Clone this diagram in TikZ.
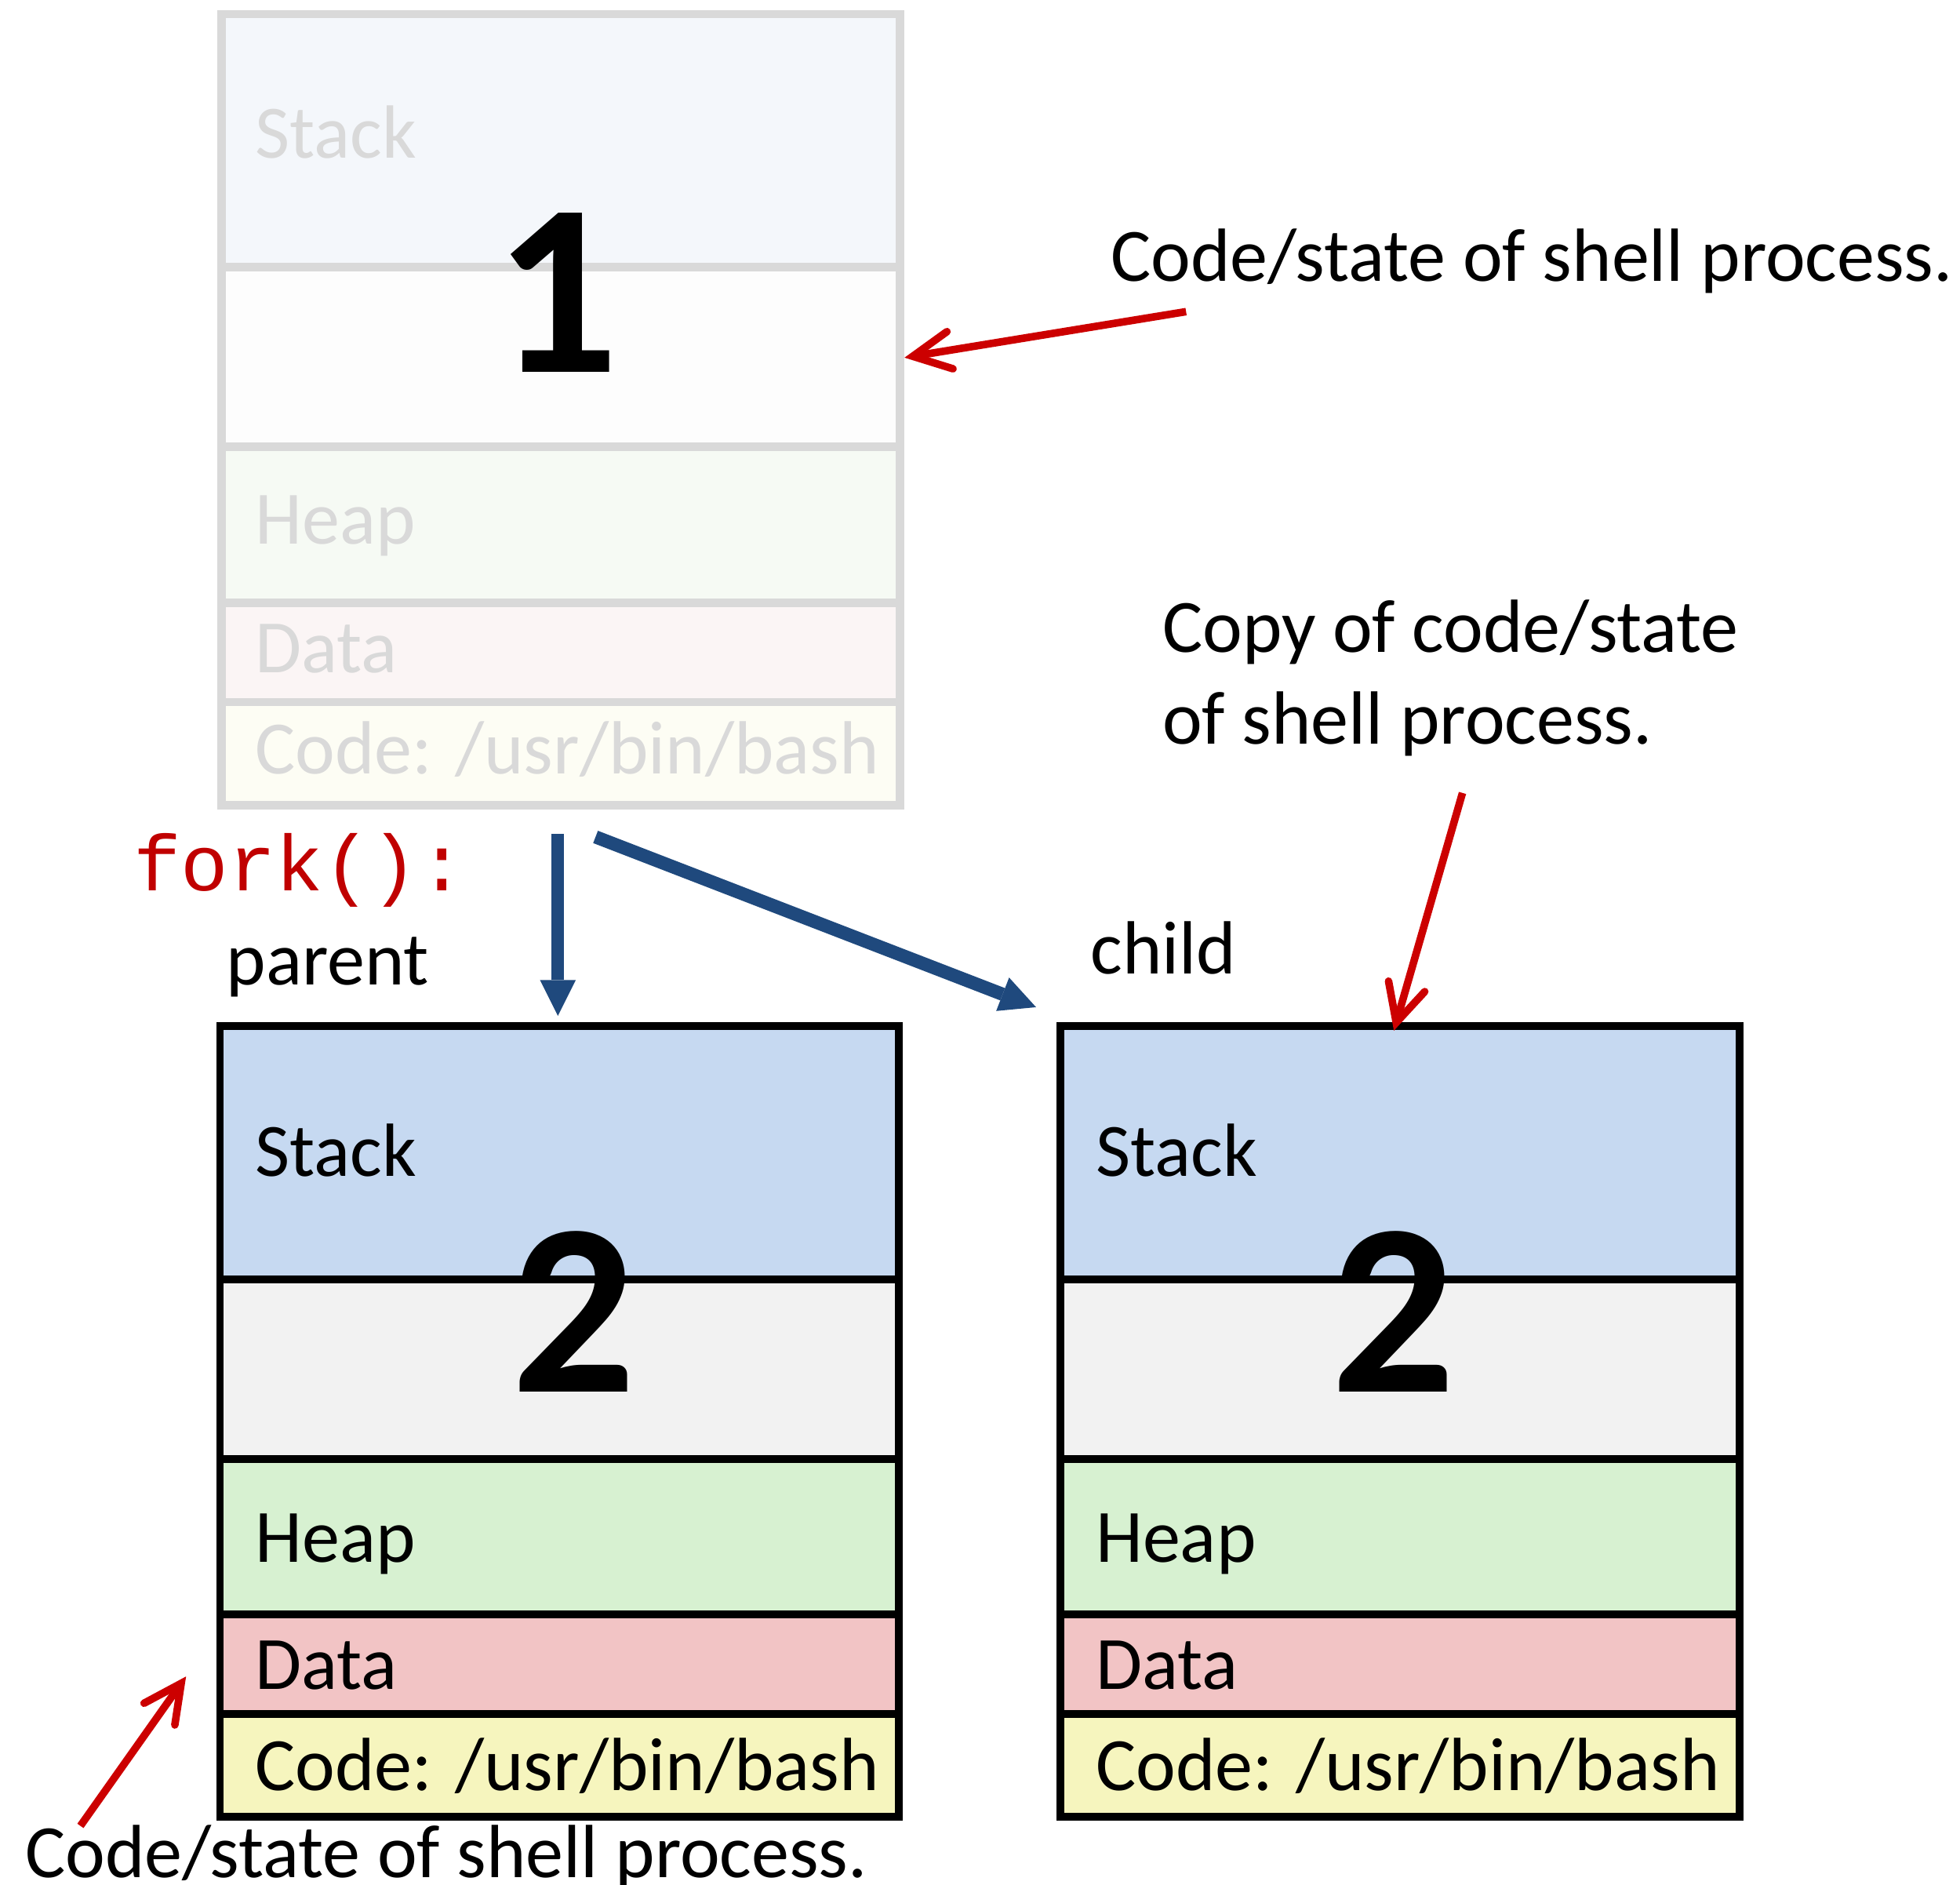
\documentclass[tikz,border=0pt]{standalone}
\usepackage{fontspec}
\setmainfont{Carlito}
\newfontfamily\monofont{Liberation Mono}
\usetikzlibrary{arrows.meta}
\definecolor{tStack}{HTML}{F4F7FB}
\definecolor{tMid}{HTML}{FDFDFD}
\definecolor{tHeap}{HTML}{F6FAF4}
\definecolor{tData}{HTML}{FBF5F5}
\definecolor{tCode}{HTML}{FDFDF4}
\definecolor{tGray}{HTML}{D9D9D9}
\definecolor{bStack}{HTML}{C6D9F1}
\definecolor{bMid}{HTML}{F2F2F2}
\definecolor{bHeap}{HTML}{D7F1D1}
\definecolor{bData}{HTML}{F2C4C5}
\definecolor{bCode}{HTML}{F6F5BE}
\definecolor{arrBlue}{HTML}{1F497D}
\definecolor{arrRed}{HTML}{CC0000}
\definecolor{forkRed}{HTML}{C00000}
\begin{document}
\begin{tikzpicture}[x=1pt,y=-1pt,
  tseg/.style={draw=tGray,line width=6.6pt,minimum width=540pt,anchor=north west,inner sep=0pt,outer sep=0pt},
  bseg/.style={draw=black,line width=6.2pt,minimum width=540.4pt,anchor=north west,inner sep=0pt,outer sep=0pt},
  tlabel/.style={anchor=base west,text=tGray,font=\fontsize{60}{72}\selectfont,inner sep=0pt},
  blabel/.style={anchor=base west,text=black,font=\fontsize{60}{72}\selectfont,inner sep=0pt},
  note/.style={anchor=base west,text=black,font=\fontsize{60}{72}\selectfont,inner sep=0pt},
  bignum/.style={anchor=base,text=black,font=\fontsize{195}{230}\bfseries\selectfont,inner sep=0pt},
  bluearrow/.style={draw=arrBlue,-{Triangle[length=28.5pt,width=28.5pt,line width=0pt]}},
  redarrow/.style={draw=arrRed,line width=6pt,-{Straight Barb[length=30pt,width=30pt,line cap=round,line join=miter]}}
]
\useasboundingbox (0,0) rectangle (1560,1500);
% ---- top process (faded)
\node[tseg,fill=tStack,minimum height=201.4pt] (tstack) at (176.2,11.25) {};
\node[tseg,fill=tMid,minimum height=143pt] (tmid) at (176.2,212.65) {};
\node[tseg,fill=tHeap,minimum height=123.9pt] (theap) at (176.2,355.65) {};
\node[tseg,fill=tData,minimum height=79.1pt] (tdata) at (176.2,479.55) {};
\node[tseg,fill=tCode,minimum height=82pt] (tcode) at (176.2,558.65) {};
\node[tlabel] (tstackL) at (203,126) {Stack};
\node[tlabel] (theapL) at (203,433) {Heap};
\node[tlabel] (tdataL) at (203,535) {Data};
\node[tlabel] (tcodeL) at (203,616) {Code: /usr/bin/bash};
\node[bignum] (one) at (443,296) {1};
% ---- parent and child processes
\foreach \px/\lx/\nm in {175.1/203/p,843.9/872/c}{
  \node[bseg,fill=bStack,minimum height=201.4pt] (\nm stack) at (\px,816.5) {};
  \node[bseg,fill=bMid,minimum height=143pt] (\nm mid) at (\px,1017.9) {};
  \node[bseg,fill=bHeap,minimum height=123.9pt] (\nm heap) at (\px,1160.9) {};
  \node[bseg,fill=bData,minimum height=79.1pt] (\nm data) at (\px,1284.8) {};
  \node[bseg,fill=bCode,minimum height=82pt] (\nm code) at (\px,1363.9) {};
  \node[blabel] (\nm stackL) at (\lx,936) {Stack};
  \node[blabel] (\nm heapL) at (\lx,1243) {Heap};
  \node[blabel] (\nm dataL) at (\lx,1344) {Data};
  \node[blabel] (\nm codeL) at (\lx,1425) {Code: /usr/bin/bash};
}
\node[bignum] (twoP) at (457,1108) {2};
\node[bignum] (twoC) at (1109,1108) {2};
% ---- texts
\node[anchor=base west,inner sep=0pt,text=forkRed,font=\monofont\fontsize{63}{72}\selectfont] (fork) at (106,709) {fork():};
\node[note] (parentL) at (180,784) {parent};
\node[note] (childL) at (868,775) {child};
\node[note] (noteTop) at (884,224) {Code/state of shell process.};
\node[note] (copyA) at (925,519) {Copy of code/state};
\node[note] (copyB) at (925,592) {of shell process.};
\node[note] (noteBot) at (20,1494) {Code/state of shell process.};
% ---- connectors
\coordinate (vS) at (444,663.7);
\coordinate (vE) at (444,808.4);
\coordinate (dS) at (474,666);
\coordinate (dE) at (824.6,801.5);
\draw[bluearrow,line width=10pt] (vS) -- (vE);
\draw[bluearrow,line width=10.5pt] (dS) -- (dE);
\coordinate (r1S) at (944,248);
\coordinate (r1E) at (719.9,284.6);
\coordinate (r2S) at (1164,631);
\coordinate (r2E) at (1109.4,820.2);
\coordinate (r3S) at (64,1453);
\coordinate (r3E) at (148.1,1334.1);
\draw[redarrow] (r1S) -- (r1E);
\draw[redarrow] (r2S) -- (r2E);
\draw[redarrow] (r3S) -- (r3E);
\end{tikzpicture}
\end{document}
